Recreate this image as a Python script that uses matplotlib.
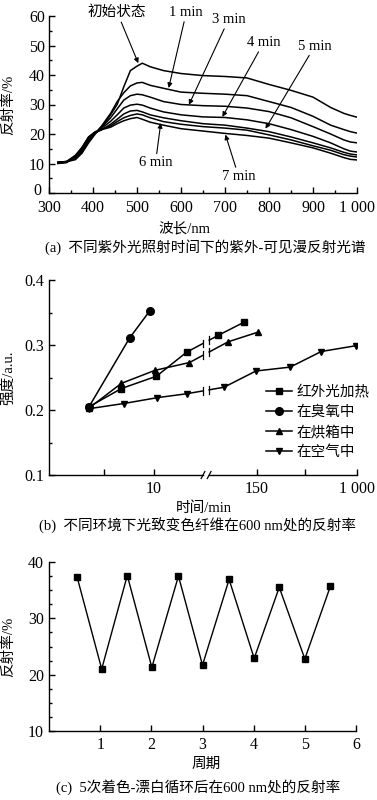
import numpy as np
import matplotlib
matplotlib.use("Agg")
import matplotlib.pyplot as plt
from matplotlib.ticker import MultipleLocator, FixedLocator, FuncFormatter

plt.rcParams['font.family'] = ['Liberation Serif', 'Noto Sans CJK SC', 'DejaVu Sans']
plt.rcParams['font.size'] = 10.5
plt.rcParams['axes.unicode_minus'] = False

# ---------------- data: panel (a) ----------------
wavelength = [320, 340, 360, 375, 390, 405, 420, 440, 455, 470, 485, 500, 512, 530,
              560, 600, 650, 700, 750, 800, 850, 900, 940, 970, 985, 1000]
refl_initial = [10.5, 10.6, 11.3, 13.5, 17, 20, 22.5, 26.5, 30, 36, 41.5, 43, 44, 42.8,
                41.5, 40.5, 39.8, 39.5, 39.0, 36.8, 34.8, 32.5, 29, 27, 26.3, 25.7]
refl_1min = [10.4, 10.7, 11.8, 14, 17.5, 20.2, 22.8, 27, 31, 34, 36.3, 37.3, 37.5, 36.5,
             35.5, 34.2, 33.8, 33.5, 33.0, 31, 29, 26, 23, 21.5, 20.8, 20.3]
refl_3min = [10.3, 10.6, 12, 14.5, 18, 20.3, 22.3, 25.5, 28.5, 31.5, 33.0, 33.5, 33.3, 32.5,
             31, 30, 29.6, 29.4, 28.8, 27.6, 25.5, 22.5, 20, 18, 17.3, 17]
refl_4min = [10.2, 10.5, 12.4, 15, 18.5, 20.4, 22, 24.3, 26.5, 28.8, 29.8, 30.1, 29.8, 28.8,
             27.5, 26.5, 25.8, 25.6, 24.8, 23.5, 21.5, 19.2, 17, 15, 14.2, 13.9]
refl_5min = [10.3, 10.7, 12.8, 15.5, 19, 20.5, 21.5, 23.3, 25, 26.8, 27.8, 28, 27.5, 26.5,
             25.5, 24.5, 23.5, 23.0, 22.0, 20.8, 19, 17, 15.3, 13.8, 13.2, 12.9]
refl_6min = [10.1, 10.4, 12.2, 15, 18.5, 20.4, 21.5, 22.8, 24.2, 25.5, 26.3, 26.8, 26.5, 25.5,
             24.2, 23.3, 22.5, 22.0, 21.3, 19.7, 18, 16, 14.5, 13, 12.5, 12.2]
refl_7min = [10.0, 10.3, 12.6, 15.2, 19, 20.8, 21.5, 22.3, 23.5, 24.5, 25.2, 25.6, 25.0, 24,
             23, 21.8, 21, 20.2, 19.5, 18.6, 17, 15.3, 13.5, 12, 11.4, 11.2]
curve_labels = ['初始状态', '1 min', '3 min', '4 min', '5 min', '6 min', '7 min']

# ---------------- data: panel (b) ----------------
x_ir = [1.30, 2.35, 3.49, 4.47, 5.50, 6.33]
y_ir = [0.205, 0.233, 0.252, 0.289, 0.315, 0.335]
x_oz = [1.30, 2.62, 3.28]
y_oz = [0.205, 0.311, 0.353]
x_ov = [1.30, 2.35, 3.44, 4.56, 5.82, 6.80]
y_ov = [0.203, 0.241, 0.261, 0.273, 0.305, 0.320]
x_air = [1.30, 2.43, 3.52, 4.47, 5.68, 6.72, 7.83, 8.84, 9.98]
y_air = [0.202, 0.210, 0.219, 0.225, 0.235, 0.260, 0.266, 0.290, 0.299]
series_b_labels = ['红外光加热', '在臭氧中', '在烘箱中', '在空气中']
b_tick_pos = [1.79, 3.41, 6.75, 8.32, 10.0]
b_tick_labels = ['', '10', '150', '', '1 000']
b_break = [5.0, 5.2]

# ---------------- data: panel (c) ----------------
cycle_x = [0.55, 1.03, 1.53, 2.01, 2.53, 3.0, 3.52, 4.01, 4.5, 5.0, 5.5]
cycle_refl = [37.3, 21.0, 37.6, 21.3, 37.5, 21.7, 36.9, 22.9, 35.5, 22.8, 35.7]

W, H = 377, 800
TICK_FS = 11.5
LAB_FS = 10.5
fig = plt.figure(figsize=(W / 100, H / 100), dpi=100)


def ax_rect(l, t, r, b):
    return [l / W, 1 - b / H, (r - l) / W, (b - t) / H]


def style_axes(ax):
    for s in ['top', 'right']:
        ax.spines[s].set_visible(False)
    for s in ['left', 'bottom']:
        ax.spines[s].set_linewidth(1.0)
    ax.tick_params(which='both', direction='in', width=1.0, labelsize=TICK_FS,
                   top=False, right=False)
    ax.tick_params(which='major', length=4)
    ax.tick_params(which='minor', length=2.5)


# ================= panel (a) =================
axa = fig.add_axes(ax_rect(49, 16, 357, 193))
style_axes(axa)
for ys in [refl_initial, refl_1min, refl_3min, refl_4min, refl_5min, refl_6min, refl_7min]:
    axa.plot(wavelength, ys, color='k', lw=1.1)
axa.set_xlim(300, 1000)
axa.set_ylim(0, 60)
axa.xaxis.set_major_locator(MultipleLocator(100))
axa.xaxis.set_minor_locator(MultipleLocator(50))
axa.yaxis.set_major_locator(MultipleLocator(10))
axa.yaxis.set_minor_locator(MultipleLocator(5))
axa.yaxis.set_major_formatter(FuncFormatter(lambda v, p: '' if v == 0 else '%d' % v))
axa.tick_params(axis='x', which='both', labelbottom=False)
axa.tick_params(axis='y', which='major', pad=3)
# the "0" at the corner, nudged up so it does not touch "300"
axa.annotate('0', (300, 0), xytext=(-5.5, 1.5), textcoords='offset points',
             ha='right', va='center', fontsize=TICK_FS, annotation_clip=False)
for v in range(300, 1001, 100):
    lab = '1 000' if v == 1000 else str(v)
    axa.annotate(lab, (v, 0), xytext=(0, -5), textcoords='offset points',
                 ha='center', va='top', fontsize=TICK_FS, annotation_clip=False)
axa.set_ylabel('反射率/%', fontsize=LAB_FS)
axa.yaxis.set_label_coords(-0.11, 0.5)

ann_a = [  # label, text xy, arrow head xy
    ('初始状态', (455, 61.2), (503, 44.0)),
    ('1 min', (612, 61.2), (572, 35.6)),
    ('3 min', (708, 58.8), (618, 29.9)),
    ('4 min', (788, 51.0), (694, 25.8)),
    ('5 min', (904, 49.8), (792, 21.8)),
    ('6 min', (542, 10.2), (554, 23.7)),
    ('7 min', (731, 5.6), (701, 19.8)),
]
for lab, txy, hxy in ann_a:
    axa.annotate(lab, xy=hxy, xytext=txy, textcoords='data', ha='center', va='center',
                 fontsize=10.5, annotation_clip=False,
                 arrowprops=dict(arrowstyle='-|>', lw=0.8, color='k', mutation_scale=7,
                                 shrinkA=0, shrinkB=0))

fig.text(184 / W, 1 - 229 / H, '波长/nm', ha='center', va='center', fontsize=LAB_FS)
fig.text(205 / W, 1 - 247 / H, '(a)  不同紫外光照射时间下的紫外-可见漫反射光谱',
         ha='center', va='center', fontsize=LAB_FS)

# ================= panel (b) =================
axb = fig.add_axes(ax_rect(49, 280, 357, 475))
style_axes(axb)
axb.spines['bottom'].set_visible(False)
axb.set_xlim(0, 10)
axb.set_ylim(0.1, 0.4)
axb.yaxis.set_major_locator(MultipleLocator(0.1))
axb.yaxis.set_minor_locator(MultipleLocator(0.05))
axb.yaxis.set_major_formatter(matplotlib.ticker.FormatStrFormatter('%.1f'))
axb.xaxis.set_major_locator(FixedLocator(b_tick_pos))
axb.set_xticklabels(b_tick_labels)
axb.tick_params(axis='x', which='major', pad=4)

# broken bottom spine
tr = axb.get_xaxis_transform()
axb.plot([0, b_break[0]], [0, 0], color='k', lw=1.0, transform=tr, clip_on=False)
axb.plot([b_break[1], 10], [0, 0], color='k', lw=1.0, transform=tr, clip_on=False)
for bx in b_break:
    axb.plot([bx - 0.06, bx + 0.06], [-0.018, 0.018], color='k', lw=0.9,
             transform=tr, clip_on=False)

markers = ['s', 'o', '^', 'v']
msizes = [4.2, 5.5, 4.8, 4.8]
series_b = [(x_ir, y_ir), (x_oz, y_oz), (x_ov, y_ov), (x_air, y_air)]
handles = []
for (xs, ys), mk, ms, lab in zip(series_b, markers, msizes, series_b_labels):
    xs = list(xs); ys = list(ys)
    if xs[-1] > b_break[1] and xs[0] < b_break[0]:
        i = next(k for k, v in enumerate(xs) if v > b_break[0])
        y0 = float(np.interp(b_break[0], xs, ys))
        y1 = float(np.interp(b_break[1], xs, ys))
        xp = xs[:i] + [b_break[0], np.nan, b_break[1]] + xs[i:]
        yp = ys[:i] + [y0, np.nan, y1] + ys[i:]
        mev = list(range(i)) + list(range(i + 3, len(xp)))
        for bx, by in [(b_break[0], y0), (b_break[1], y1)]:
            axb.plot([bx, bx], [by - 0.006, by + 0.006], color='k', lw=0.9)
    else:
        xp, yp, mev = xs, ys, None
    h, = axb.plot(xp, yp, color='k', lw=1.1, marker=mk, ms=ms, markevery=mev,
                  mfc='k', mec='k', label=lab)
    handles.append(h)

axb.legend(handles=handles, loc='upper left', bbox_to_anchor=(0.705, 0.46),
           frameon=False, handlelength=1.8, handletextpad=0.3, labelspacing=0.42,
           borderpad=0, borderaxespad=0, fontsize=LAB_FS)
axb.set_ylabel('强度/a.u.', fontsize=LAB_FS)
axb.yaxis.set_label_coords(-0.11, 0.5)
fig.text(204 / W, 1 - 508 / H, '时间/min', ha='center', va='center', fontsize=LAB_FS)
fig.text(198 / W, 1 - 526 / H, '(b)  不同环境下光致变色纤维在600 nm处的反射率',
         ha='center', va='center', fontsize=LAB_FS)

# ================= panel (c) =================
axc = fig.add_axes(ax_rect(49, 562, 356, 731))
style_axes(axc)
axc.plot(cycle_x, cycle_refl, color='k', lw=1.0, marker='s', ms=5.0, mfc='k', mec='k')
axc.set_xlim(0, 6)
axc.set_ylim(10, 40)
axc.xaxis.set_major_locator(FixedLocator([1, 2, 3, 4, 5, 6]))
axc.yaxis.set_major_locator(MultipleLocator(10))
axc.yaxis.set_minor_locator(MultipleLocator(2.5))
axc.tick_params(axis='x', which='major', pad=4)
axc.set_ylabel('反射率/%', fontsize=LAB_FS)
axc.yaxis.set_label_coords(-0.11, 0.5)
fig.text(206 / W, 1 - 764 / H, '周期', ha='center', va='center', fontsize=LAB_FS)
fig.text(198 / W, 1 - 787 / H, '(c)  5次着色-漂白循环后在600 nm处的反射率',
         ha='center', va='center', fontsize=LAB_FS)

fig.savefig('out.png', dpi=100)
